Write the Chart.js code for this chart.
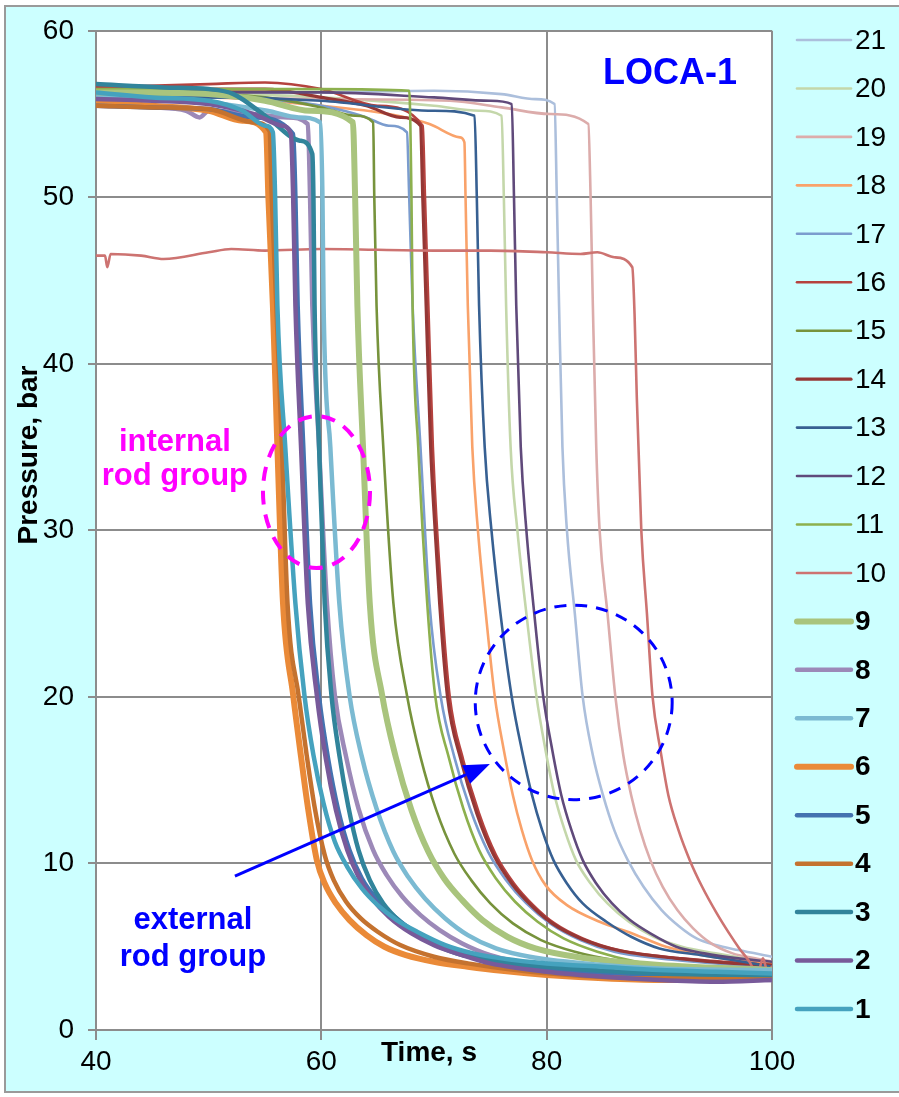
<!DOCTYPE html>
<html><head><meta charset="utf-8">
<script src="https://cdn.jsdelivr.net/npm/chart.js@4/dist/chart.umd.min.js"></script>
<style>html,body{margin:0;padding:0;background:#fff;}#wrap{width:899px;height:1097px;}</style>
</head><body><div id="wrap"><canvas id="c" width="899" height="1097"></canvas></div>
<script>
// ---- data (time s, pressure bar) ----
const seriesLabels = ['1','2','3','4','5','6','7','8','9','10','11','12','13','14','15','16','17','18','19','20','21'];
const xTicks = [40, 60, 80, 100];
const yTicks = [0, 10, 20, 30, 40, 50, 60];

const s1 = [[40,56.3],[45,56.0],[50,55.8],[53,55.2],[55,54.3],[55.7,53.9],[55.9,50],[56.1,43.5],[56.8,35],[57.7,25.6],[58.5,20.1],[59.3,16.5],[60.2,13.6],[61.2,11.3],[62.3,9.8],[63.6,8.5],[65,7.5],[66.7,6.6],[68.5,5.9],[71,5.1],[73.5,4.6],[76,4.3],[80,4.0],[85,3.8],[90,3.6],[95,3.5],[100,3.4]];
const s2 = [[40,55.9],[45,55.8],[50,55.6],[54,55.0],[56.5,54.3],[57.3,53.8],[57.5,50],[57.7,43.5],[58.2,35],[58.8,25.6],[59.6,20.1],[60.4,16.3],[61.3,13.2],[62.3,10.8],[63.3,9.2],[64.5,7.9],[66,6.8],[68,5.8],[70,5.1],[72.5,4.5],[75,4.0],[80,3.5],[85,3.2],[90,3.0],[95,2.9],[100,3.0]];
const s3 = [[40,56.8],[46,56.6],[50,56.5],[52.2,56.2],[55.2,54.8],[58.1,53.4],[59.2,52.6],[59.3,50],[59.4,43.5],[59.8,35],[60.3,25.6],[60.9,20.1],[61.6,16.5],[62.4,13.4],[63.3,10.8],[64.3,9.0],[65.5,7.6],[67,6.5],[69,5.5],[72,4.6],[76,4.1],[80,3.8],[90,3.4],[100,3.3]];
const s4 = [[40,55.5],[45,55.4],[50,55.3],[54,54.5],[55.4,54.0],[55.6,50],[56.0,43.5],[56.5,35],[57.0,25.6],[58.0,20],[58.7,16.5],[59.4,13.4],[60.3,10.5],[61.1,9.0],[62.2,7.7],[63.5,6.7],[65,5.9],[67,5.1],[70,4.4],[73,4.0],[80,3.4],[90,3.1],[100,3.2]];
const s5 = [[40,55.5],[45,55.4],[50,55.3],[54,54.8],[57.5,53.8],[57.7,50],[57.9,43.5],[58.4,35],[59.0,25.6],[59.8,20],[60.6,16.3],[61.5,13.2],[62.5,10.8],[63.6,9.1],[65,7.8],[66.5,6.8],[68.5,5.8],[71,5.0],[75,4.2],[80,3.7],[90,3.3],[100,3.3]];
const s6 = [[40,55.7],[45,55.5],[50,55.2],[53,54.6],[55.1,53.9],[55.3,50],[55.7,43.5],[56.1,35],[56.6,25.6],[57.5,20.1],[58.2,16.4],[58.8,13.4],[59.6,10.2],[60.3,8.8],[61.3,7.6],[62.5,6.6],[64,5.7],[65.6,5.0],[67.5,4.5],[70,4.1],[73,3.8],[76,3.55],[80,3.3],[85,3.1],[90,3.0],[100,3.1]];
const s7 = [[40,56.0],[45,55.9],[50,55.7],[55.2,55.2],[58,54.8],[59.9,54.5],[60.1,50],[60.2,43.5],[60.8,35],[61.6,25.6],[62.5,20.1],[63.6,16.4],[64.9,13.3],[66.4,10.7],[67.7,9.2],[69.2,7.9],[71,6.7],[73,5.7],[75.5,4.9],[78.5,4.4],[85,3.9],[90,3.7],[100,3.6]];
const s8 = [[40,55.5],[45,55.4],[48,55.2],[49.2,54.8],[50,55.2],[54,55.0],[57,54.8],[58.8,54.4],[59.0,50],[59.2,43.5],[59.8,35],[60.5,25.6],[61.2,20.1],[62.2,16.4],[63.3,13.3],[64.6,10.8],[65.8,9.3],[67.2,8.0],[68.8,6.9],[70.5,6.0],[72.5,5.2],[75,4.5],[80,3.8],[85,3.4],[90,3.2],[100,3.0]];
const s9 = [[40,56.3],[45,56.3],[50,56.2],[55,55.8],[59,55.2],[62.8,54.5],[63.0,50],[63.2,43.5],[63.7,35],[64.3,25.6],[65.4,20.1],[66.6,16.4],[68,13.2],[69.5,10.7],[70.9,9.1],[72.5,7.8],[74.3,6.6],[76.5,5.6],[79,4.9],[83,4.35],[90,3.9],[100,3.6]];
const s10 = [[40,46.5],[40.8,46.5],[41.0,45.8],[41.3,46.6],[44,46.5],[46,46.3],[50,46.7],[52,46.9],[55,46.8],[60,46.9],[70,46.8],[75,46.8],[80,46.7],[83,46.6],[84.5,46.7],[86,46.4],[87.6,45.8],[87.8,43],[88.0,38],[88.4,30],[88.9,25],[89.4,20],[90.1,16.8],[90.8,14.1],[91.7,12.0],[92.7,10.2],[93.8,8.6],[95.1,7.0],[96.2,5.8],[97.1,4.9],[98,4.1],[98.7,3.3],[99.2,4.3],[99.6,3.5],[100,3.8]];
const s11 = [[40,56.5],[50,56.5],[60,56.5],[67.8,56.4],[68.0,50],[68.1,43.5],[68.6,35],[69.4,25.6],[70.1,20.1],[71.3,16.4],[72.6,13.3],[74,10.8],[75.5,9.1],[77.2,7.7],[79.2,6.5],[81.5,5.5],[84.5,4.7],[88,4.1],[92,3.8],[100,3.5]];
const s12 = [[40,56.2],[50,56.3],[60,56.3],[70,56.0],[75,55.8],[76.9,55.6],[77.1,50],[77.3,43.5],[77.7,35],[78.2,30],[78.9,25],[79.7,20],[80.5,16.8],[81.3,14.1],[82.2,12.0],[83.2,10.2],[84.4,8.8],[85.8,7.6],[87.4,6.6],[89.2,5.8],[91.5,5.0],[94,4.6],[97,4.3],[100,4.1]];
const s13 = [[40,55.8],[50,56.0],[60,55.8],[70,55.2],[73.6,54.9],[73.8,50],[74.0,43.5],[74.5,35],[75.1,30],[75.9,25],[76.9,20],[77.8,16.8],[78.7,14.1],[79.6,12.0],[80.6,10.2],[81.8,8.8],[83.2,7.6],[85.3,6.5],[87.5,5.6],[90,4.9],[93.6,4.5],[96.5,4.2],[100,3.8]];
const s14 = [[40,56.3],[50,56.5],[55,56.5],[60,56.0],[64,55.5],[67,54.8],[68.8,54.3],[69.0,50],[69.3,43.5],[69.7,35],[70.1,30],[70.5,25.6],[71.2,20],[72.4,16.2],[73.8,13.0],[75.3,10.5],[76.9,8.8],[78.6,7.5],[80.5,6.4],[83,5.5],[86.2,4.8],[91.6,4.3],[96.6,4.0],[100,3.9]];
const s15 = [[40,56.2],[50,56.2],[55,56.0],[60,55.4],[63,54.9],[64.6,54.5],[64.7,50],[64.9,43.5],[65.5,35],[66.4,25.6],[67.6,20.1],[68.8,16.4],[70.2,13.2],[71.8,10.6],[73.3,9.0],[75,7.6],[77,6.4],[79.5,5.4],[82.5,4.7],[86,4.2],[90,3.9],[100,3.5]];
const s16 = [[40,56.6],[50,56.8],[55,56.9],[60,56.5],[65,55.5],[69.0,54.3],[69.2,50],[69.5,43.5],[69.9,35],[70.7,25.6],[71.4,20],[72.6,16.2],[74,13.0],[75.5,10.5],[77.1,8.8],[78.8,7.5],[80.7,6.4],[83.2,5.5],[86.4,4.8],[92,4.3],[100,3.9]];
const s17 = [[40,56.0],[50,56.0],[58,55.7],[62,55.2],[64,54.8],[66,54.3],[67.6,53.9],[67.8,50],[68.1,43.5],[68.8,35],[69.6,25.6],[70.6,20],[71.8,16.4],[73.2,13.3],[74.8,10.7],[76.4,9.0],[78.2,7.6],[80.3,6.4],[83,5.4],[86,4.7],[90,4.3],[95,4.0],[100,3.7]];
const s18 = [[40,56.0],[50,56.0],[60,55.5],[66,55.0],[69.6,54.4],[72.3,53.6],[72.7,53.3],[72.8,50],[73.0,43.5],[73.4,35],[73.9,30],[74.6,25],[75.4,20],[76.2,16.8],[77.0,14.1],[77.8,12.0],[78.7,10.2],[79.9,8.7],[81.8,7.5],[84.7,6.5],[87.6,5.8],[90.6,5.0],[96.5,4.2],[100,4.0]];
const s19 = [[40,56.0],[50,56.0],[60,55.9],[71.4,55.8],[76,55.4],[80.3,55.0],[83.7,54.4],[83.9,50],[84.1,43.5],[84.4,35],[84.7,30],[85.4,25],[86.1,20],[86.8,16.5],[87.5,14.1],[88.3,12.0],[89.2,10.2],[90.3,8.6],[91.6,7.2],[93,6.1],[94.6,5.2],[96.5,4.6],[98.5,4.3],[100,4.1]];
const s20 = [[40,56.0],[50,56.2],[60,56.0],[70,55.5],[74,55.2],[76.0,54.9],[76.2,50],[76.4,43.5],[76.8,35],[77.4,30],[78.2,25],[79.1,20],[79.9,16.8],[80.7,14.1],[81.6,12.0],[82.6,10.2],[83.9,8.8],[85.4,7.6],[87.3,6.5],[89.5,5.6],[92,5.0],[95,4.6],[100,4.0]];
const s21 = [[40,56.0],[50,56.2],[60,56.3],[70,56.4],[76,56.2],[79,55.9],[80.7,55.6],[80.9,50],[81.1,43.5],[81.4,35],[81.8,30],[82.5,25],[83.2,20],[84.1,16.5],[85.0,14.1],[86.0,12.0],[87.2,10.2],[88.6,8.6],[90.2,7.2],[91.8,6.2],[93.3,5.5],[95,5.1],[97,4.8],[100,4.4]];

const allSeries = [s1,s2,s3,s4,s5,s6,s7,s8,s9,s10,s11,s12,s13,s14,s15,s16,s17,s18,s19,s20,s21];

// ---- styles ----
const colors = ['#45a2be','#785a9a','#31849b','#c4722f','#4472b0','#ea8a38','#7bbad2','#9c89b8','#a9c47d',
                '#cd7371','#8db04e','#604a7b','#376092','#953735','#77933c','#b5423e','#7b9cce','#f9a26a','#dcacab','#c4d7aa','#acbfdc'];
const widths = [4.5,4.5,4.5,4.5,4.5,6,4.5,4.5,6, 2.6,2.6,2.6,2.6,3.2,2.6,2.6,2.6,2.6,2.6,2.6,2.6];
const FONT = "'Liberation Sans', Arial, sans-serif";

// annotations in data coordinates
const notes = [
  {type:'text', text:'LOCA-1', x:85.0, y:56.8, color:'#0000ff', size:36, align:'left'},
  {type:'text', text:'internal', x:47.0, y:34.74, color:'#ff00ff', size:31, align:'center'},
  {type:'text', text:'rod group', x:47.0, y:32.72, color:'#ff00ff', size:31, align:'center'},
  {type:'text', text:'external', x:48.6, y:6.08, color:'#0000ff', size:31, align:'center'},
  {type:'text', text:'rod group', x:48.6, y:3.87, color:'#0000ff', size:31, align:'center'},
  {type:'ellipse', x:59.57, y:32.3, rx:4.75, ry:4.56, color:'#ff00ff', lw:4, dash:[14,10]},
  {type:'ellipse', x:82.4, y:19.67, rx:8.74, ry:5.84, color:'#0000ff', lw:3, dash:[12,9]},
  {type:'arrow', x0:52.33, y0:9.24, x1:74.96, y1:15.97, color:'#0000ff', lw:3}
];

const deco = {
  id:'deco',
  beforeDraw(chart){
    const c = chart.ctx, a = chart.chartArea;
    c.save();
    c.fillStyle='#ffffff'; c.fillRect(0,0,chart.width,chart.height);
    c.fillStyle='#ccffff'; c.fillRect(5,6,chart.width,1086);
    c.strokeStyle='#9a9a9a'; c.lineWidth=2; c.strokeRect(5,6,chart.width+10,1086);
    c.fillStyle='#ffffff'; c.fillRect(a.left,a.top,a.right-a.left,a.bottom-a.top);
    c.restore();
  },
  afterDatasetsDraw(chart){
    const c = chart.ctx, xs = chart.scales.x, ys = chart.scales.y;
    c.save();
    for (const n of notes){
      if (n.type==='text'){
        c.font = 'bold '+n.size+'px '+FONT; c.fillStyle=n.color; c.textAlign=n.align; c.textBaseline='alphabetic';
        c.fillText(n.text, xs.getPixelForValue(n.x), ys.getPixelForValue(n.y));
      } else if (n.type==='ellipse'){
        const cx = xs.getPixelForValue(n.x), cy = ys.getPixelForValue(n.y);
        const rx = Math.abs(xs.getPixelForValue(n.x+n.rx)-cx), ry = Math.abs(ys.getPixelForValue(n.y+n.ry)-cy);
        c.beginPath(); c.setLineDash(n.dash); c.strokeStyle=n.color; c.lineWidth=n.lw;
        c.ellipse(cx,cy,rx,ry,0,0,Math.PI*2); c.stroke(); c.setLineDash([]);
      } else if (n.type==='arrow'){
        const x0=xs.getPixelForValue(n.x0), y0=ys.getPixelForValue(n.y0), x1=xs.getPixelForValue(n.x1), y1=ys.getPixelForValue(n.y1);
        const ang=Math.atan2(y1-y0,x1-x0), hl=26, hw=10;
        const bx=x1-hl*Math.cos(ang), by=y1-hl*Math.sin(ang);
        c.strokeStyle=n.color; c.fillStyle=n.color; c.lineWidth=n.lw;
        c.beginPath(); c.moveTo(x0,y0); c.lineTo(bx,by); c.stroke();
        c.beginPath(); c.moveTo(x1,y1); c.lineTo(bx+hw*Math.sin(ang), by-hw*Math.cos(ang)); c.lineTo(bx-hw*Math.sin(ang), by+hw*Math.cos(ang)); c.closePath(); c.fill();
      }
    }
    c.restore();
  },
  afterDraw(chart){
    const c = chart.ctx;
    c.save();
    c.fillStyle='#000'; c.font='bold 28px '+FONT; c.textAlign='center'; c.textBaseline='middle';
    c.save(); c.translate(29,455); c.rotate(-Math.PI/2); c.fillText('Pressure, bar',0,0); c.restore();
    c.fillText('Time, s',429,1053);
    // legend (reverse order)
    const ds = chart.data.datasets;
    let k=0;
    for (let i=ds.length-1;i>=0;i--){
      const y = 40 + 48.45*k; k++;
      const d = ds[i];
      c.strokeStyle=d.borderColor; c.lineWidth=d.borderWidth; c.lineCap='round';
      c.beginPath(); c.moveTo(797,y); c.lineTo(851,y); c.stroke();
      c.fillStyle='#000'; c.textAlign='left'; c.textBaseline='middle';
      c.font=(i<9?'bold ':'')+'28px '+FONT;
      c.fillText(d.label,855,y+1);
    }
    c.restore();
  }
};

const datasets = allSeries.map((s,i)=>({
  label: seriesLabels[i],
  data: s.map(p=>({x:p[0],y:p[1]})),
  borderColor: colors[i], backgroundColor: colors[i], borderWidth: widths[i],
  pointRadius:0, fill:false, cubicInterpolationMode:'monotone',
  borderJoinStyle:'round', borderCapStyle:'round'
}));

new Chart(document.getElementById('c'), {
  type:'line',
  data:{datasets},
  options:{
    responsive:false, animation:false, devicePixelRatio:1,
    layout:{padding:{top:23,right:127,bottom:0,left:0}},
    plugins:{legend:{display:false}, tooltip:{enabled:false}},
    scales:{
      x:{type:'linear', min:40, max:100,
         afterBuildTicks(s){ s.ticks = xTicks.map(v=>({value:v})); },
         afterFit(s){ s.height = 67; },
         ticks:{font:{family:FONT,size:28}, color:'#000', padding:5, maxRotation:0},
         grid:{color:'#8c8c8c', lineWidth:2, tickLength:10},
         border:{color:'#8c8c8c', width:2}},
      y:{type:'linear', min:0, max:60,
         afterBuildTicks(s){ s.ticks = yTicks.map(v=>({value:v})); },
         afterFit(s){ s.width = 96; },
         ticks:{font:{family:FONT,size:28}, color:'#000', padding:14},
         grid:{color:'#8c8c8c', lineWidth:2, tickLength:8},
         border:{color:'#8c8c8c', width:2}}
    }
  },
  plugins:[deco]
});
</script>
</body></html>
